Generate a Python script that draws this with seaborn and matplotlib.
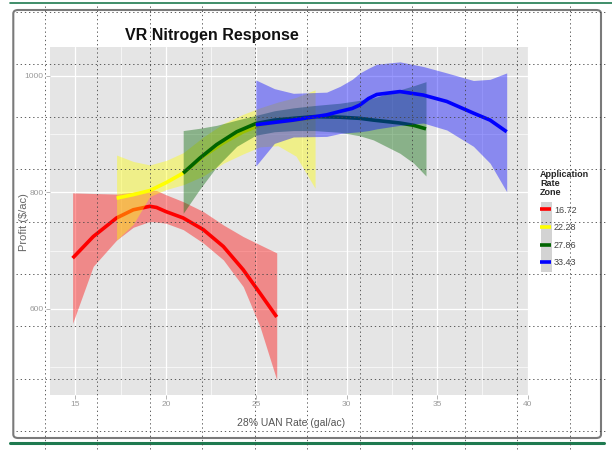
# VR nitrogen response: profit vs 28% UAN rate, one smoothed fit per application-rate zone
import numpy as np
import pandas as pd
import matplotlib
matplotlib.use("Agg")
import matplotlib.pyplot as plt
import seaborn as sns
from matplotlib.lines import Line2D
from matplotlib.patches import FancyBboxPatch, Rectangle

# Data
zones = ["16.72", "22.28", "27.86", "33.43"]
zone_colors = ["#FF0000", "#FFFF00", "#006400", "#0000FF"]

red_rate = [14.85, 15.99, 17.28, 18.20, 19.12, 19.49, 20.00, 20.96, 22.07, 23.18, 24.28, 25.20, 26.13]
red_fit = [687, 724, 756, 770, 776, 774, 767, 756, 736, 707, 667, 627, 586]
red_upper = [799, 798, 797, 800, 804, 803, 796, 784, 767, 744, 724, 710, 696]
red_lower = [575, 673, 718, 740, 750, 749, 747, 736, 713, 684, 638, 570, 478]

yellow_rate = [17.28, 18.20, 19.12, 20.04, 20.96, 22.07, 23.18, 24.28, 25.20, 26.20, 27.20, 28.25]
yellow_fit = [790, 796, 803, 817, 833, 862, 885, 904, 915, 921, 924, 928]
yellow_upper = [864, 853, 847, 855, 868, 895, 918, 934, 945, 955, 963, 976]
yellow_lower = [718, 745, 793, 805, 813, 828, 850, 866, 878, 880, 862, 807]

green_rate = [20.96, 21.89, 22.81, 23.92, 24.97, 26.00, 27.05, 28.20, 29.63, 30.73, 31.47, 32.94, 33.70, 34.38]
green_fit = [833, 859, 882, 904, 918, 924, 927, 930, 929, 927, 924, 919, 915, 909]
green_upper = [906, 910, 915, 924, 932, 940, 945, 949, 953, 958, 962, 976, 983, 990]
green_lower = [764, 806, 844, 879, 898, 904, 906, 906, 903, 897, 890, 867, 850, 828]

blue_rate = [24.97, 26.00, 27.05, 28.89, 29.63, 30.30, 30.73, 31.20, 31.66, 32.94, 34.23, 35.53, 37.00, 37.92, 38.84]
blue_fit = [916, 920, 924, 933, 939, 944, 950, 961, 968, 973, 967, 956, 936, 924, 904]
blue_upper = [993, 978, 970, 972, 982, 994, 1005, 1013, 1020, 1024, 1016, 1005, 992, 994, 1005]
blue_lower = [845, 884, 895, 896, 901, 903, 904, 906, 909, 915, 919, 907, 879, 850, 801]

rates = [red_rate, yellow_rate, green_rate, blue_rate]
fits = [red_fit, yellow_fit, green_fit, blue_fit]
uppers = [red_upper, yellow_upper, green_upper, blue_upper]
lowers = [red_lower, yellow_lower, green_lower, blue_lower]

x_ticks = [15, 20, 25, 30, 35, 40]
y_ticks = [600, 800, 1000]

df = pd.concat(
    [pd.DataFrame({"rate": r, "profit": f, "lower": lo, "upper": up, "zone": z})
     for r, f, lo, up, z in zip(rates, fits, lowers, uppers, zones)],
    ignore_index=True,
)

sns.set_theme(style="darkgrid", rc={"axes.facecolor": "#E5E5E5", "grid.color": "white"})
plt.rcParams["font.family"] = ["Liberation Sans Narrow", "Liberation Sans", "DejaVu Sans"]

fig = plt.figure(figsize=(6.12, 4.5), dpi=100)
ax = fig.add_axes([0.0817, 0.1222, 0.7832, 0.774])

# ggplot draws ribbon then line for each group in turn
palette = dict(zip(zones, zone_colors))
for i, z in enumerate(zones):
    d = df[df["zone"] == z]
    ax.fill_between(d["rate"], d["lower"], d["upper"], color=palette[z],
                    alpha=0.4, linewidth=0, zorder=2 + 2 * i)
    sns.lineplot(data=d, x="rate", y="profit", color=palette[z], linewidth=2.6,
                 ax=ax, zorder=3 + 2 * i, legend=False, solid_capstyle="butt")

ax.set_xlim(13.6, 40.09)
ax.set_ylim(452, 1050)
ax.set_xticks(x_ticks)
ax.set_yticks(y_ticks)
ax.set_xticks([17.5, 22.5, 27.5, 32.5, 37.5], minor=True)
ax.set_yticks([500, 700, 900], minor=True)
ax.grid(which="major", color="white", linewidth=0.9)
ax.grid(which="minor", color="white", linewidth=0.45)
ax.tick_params(axis="both", which="major", length=3, width=0.6, color="#aaaaaa",
               labelsize=6, labelcolor="#9a9a9a", pad=1.5, bottom=True, left=True)
ax.tick_params(which="minor", length=0)
for s in ax.spines.values():
    s.set_visible(False)
ax.set_xlabel("")
ax.set_ylabel("")

fig.text(0.347, 0.922, "VR Nitrogen Response", ha="center", va="center",
         fontsize=11.5, fontweight="bold", color="#111111")
fig.text(0.476, 0.06, "28% UAN Rate (gal/ac)", ha="center", va="center",
         fontsize=7.5, color="#555555")
fig.text(0.040, 0.507, "Profit ($/ac)", ha="center", va="center", rotation=90,
         fontsize=8, color="#666666")

# legend
handles = [Line2D([0], [0], color=c, linewidth=2.6, solid_capstyle="butt") for c in zone_colors]
fig.patches.append(Rectangle((540.7 / 612, 1 - 271.7 / 450), 11.6 / 612, 70 / 450,
                             transform=fig.transFigure, facecolor="#D3D3D3",
                             edgecolor="none", zorder=-1))
leg = ax.legend(handles, zones, title="Application\nRate\nZone", loc="upper left",
                bbox_to_anchor=(540 / 612, 1 - 170 / 450), bbox_transform=fig.transFigure,
                frameon=False, fontsize=6.5, handlelength=1.25, handletextpad=0.3,
                labelspacing=0.95, borderaxespad=0, borderpad=0, alignment="left")
leg.get_title().set_fontsize(6.5)
leg.get_title().set_fontweight("bold")
leg.get_title().set_linespacing(1.0)
for t in leg.get_texts():
    t.set_color("#444444")

# slide decoration: rounded frame, green rules, dotted overlay grid
W, H = 612.0, 450.0
frame = FancyBboxPatch((13.3 / W, 1 - 438 / H), (601 - 13.3) / W, (438 - 10) / H,
                       boxstyle="round,pad=0,rounding_size=0.008", transform=fig.transFigure,
                       facecolor="none", edgecolor="#7a7a7a", linewidth=1.5, zorder=5)
fig.patches.append(frame)
fig.lines.append(Line2D([10 / W, 1.0], [1 - 2.7 / H] * 2, transform=fig.transFigure,
                        color="#1f7a50", linewidth=1.2))
fig.lines.append(Line2D([10 / W, 604 / W], [1 - 443.3 / H] * 2, transform=fig.transFigure,
                        color="#1f7a50", linewidth=2.2))
for px in np.arange(44.5, 580, 52.55):
    fig.lines.append(Line2D([px / W] * 2, [1 - 6 / H, 0], transform=fig.transFigure,
                            color="#444444", linewidth=0.6, linestyle=(0, (1.6, 3.4)), zorder=20))
for py in np.arange(11.9, 440, 52.4):
    fig.lines.append(Line2D([16 / W, 605 / W], [1 - py / H] * 2, transform=fig.transFigure,
                            color="#444444", linewidth=0.6, linestyle=(0, (1.6, 3.4)), zorder=20))

fig.savefig("out.png", dpi=100)
